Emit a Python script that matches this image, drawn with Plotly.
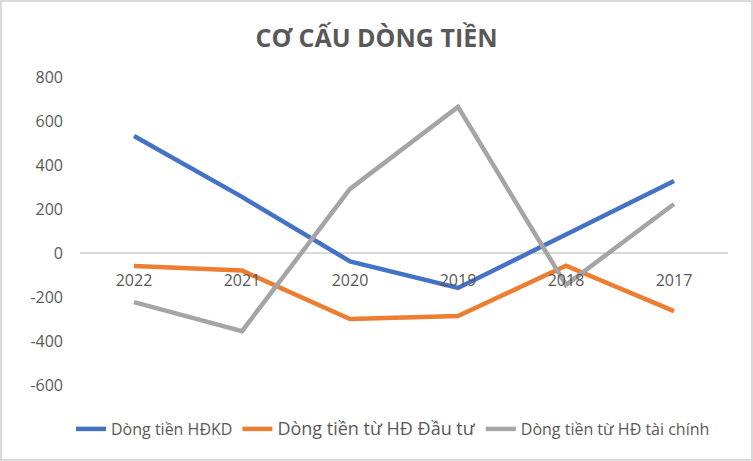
import plotly.graph_objects as go

years = ["2022", "2021", "2020", "2019", "2018", "2017"]
hdkd = [532, 255, -38, -159, 84, 327]
dautu = [-59, -80, -300, -286, -58, -264]
taichinh = [-223, -355, 291, 664, -145, 223]
y_ticks = [-600, -400, -200, 0, 200, 400, 600, 800]
y_tick_labels = ["-600", "-400", "-200", "0", "200", "400", "600", "800"]

FONT = "Open Sans, Noto Sans, Liberation Sans, sans-serif"
GREY = "#595959"

L, R, T, B = 80, 25, 77, 76
W, H = 753, 461
pw, ph = W - L - R, H - T - B

fig = go.Figure()
fig.add_trace(go.Scatter(x=years, y=hdkd, mode="lines", name="Dòng tiền HĐKD",
                         line=dict(color="#4472C4", width=4.5)))
fig.add_trace(go.Scatter(x=years, y=dautu, mode="lines",
                         name="<span style='font-size:18px'>Dòng tiền từ HĐ Đầu tư</span>",
                         line=dict(color="#ED7D31", width=4.5)))
fig.add_trace(go.Scatter(x=years, y=taichinh, mode="lines", name="Dòng tiền từ HĐ tài chính",
                         line=dict(color="#A5A5A5", width=4.5)))

fig.update_layout(
    width=W, height=H,
    margin=dict(l=L, r=R, t=T, b=B, autoexpand=False),
    paper_bgcolor="white", plot_bgcolor="white",
    font=dict(family=FONT, color=GREY, size=16),
    title=dict(text="<b>CƠ CẤU DÒNG TIỀN</b>", x=0.5, xref="container", xanchor="center",
               y=1 - 38 / H, yref="container", yanchor="middle",
               font=dict(family=FONT, size=25, color=GREY)),
    showlegend=True,
    legend=dict(orientation="h", xref="paper", x=(393 - L) / pw, xanchor="center",
                y=(ph - (429 - T)) / ph, yanchor="middle",
                font=dict(family=FONT, size=16, color=GREY),
                bgcolor="rgba(0,0,0,0)"),
    xaxis=dict(type="category", range=[-0.5, 5.5], showgrid=False, zeroline=False,
               showline=False, anchor="free", position=600 / 1400,
               ticks="", ticklabelstandoff=16, tickangle=0,
               tickfont=dict(family=FONT, size=16, color=GREY)),
    yaxis=dict(range=[-600, 800], tickvals=y_ticks, ticktext=y_tick_labels, showgrid=False,
               zeroline=True, zerolinecolor="#D9D9D9", zerolinewidth=1.5,
               showline=False, ticks="", ticklabelstandoff=16,
               tickfont=dict(family=FONT, size=16, color=GREY)),
)

fig.add_shape(type="rect", xref="paper", yref="paper",
              x0=(1 - L) / pw, x1=(W - 1 - L) / pw,
              y0=(ph + T - (H - 1)) / ph, y1=(ph + T - 1) / ph,
              line=dict(color="#D9D9D9", width=2), fillcolor="rgba(0,0,0,0)", layer="below")

fig.write_html("out.html", config={"displayModeBar": False},
               post_script="document.body.style.margin='0px';")
